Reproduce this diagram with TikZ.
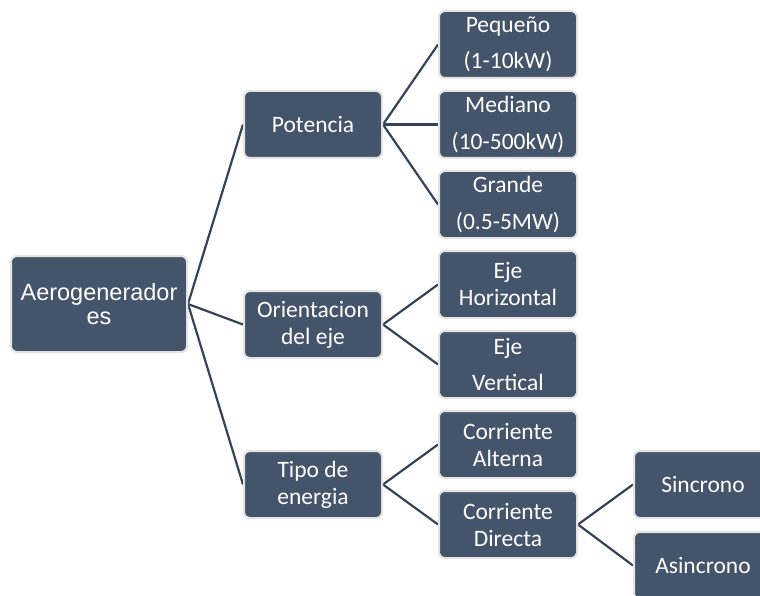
\documentclass[tikz,border=0pt]{standalone}
\usepackage{fontspec}
\setmainfont{Carlito}
\newfontfamily\arialfont{Liberation Sans}
\usetikzlibrary{backgrounds}
\definecolor{boxfill}{HTML}{44546A}
\definecolor{boxrim}{HTML}{E3E3E3}
\definecolor{wirecol}{HTML}{35435A}
\begin{document}
\begin{tikzpicture}[x=1pt,y=-1pt,
  box/.style={draw=boxrim, line width=2pt, fill=boxfill, rounded corners=6pt,
    text=white, minimum width=138pt, minimum height=67pt, inner sep=0pt,
    anchor=north west, align=center, font=\fontsize{23.5}{27}\selectfont},
  loose/.style={font=\fontsize{23.5}{36.5}\selectfont},
  wire/.style={draw=wirecol, line width=2.2pt}]
\useasboundingbox (0,0) rectangle (760,596);

% root
\node[box, minimum width=176pt, minimum height=96pt,
  font=\arialfont\fontsize{23.5}{24}\selectfont] (aero) at (10,255) {Aerogenerador\\es};

% first level
\node[box] (pot) at (243,90) {Potencia};
\node[box] (ori) at (243,290) {Orientacion\\del eje};
\node[box] (tipo) at (243,450) {Tipo de\\energia};

% second level
\node[box, loose] (peq) at (438,10) {Peque\~no\\ (1-10kW)};
\node[box, loose] (med) at (438,90) {Mediano\\(10-500kW)};
\node[box, loose] (gra) at (438,170) {Grande\\(0.5-5MW)};
\node[box] (ejh) at (438,250) {Eje\\Horizontal};
\node[box, loose] (ejv) at (438,330) {Eje\\ Vertical};
\node[box] (ca) at (438,410) {Corriente\\Alterna};
\node[box] (cd) at (438,490) {Corriente\\Directa};

% third level
\node[box] (sin) at (633,450) {Sincrono};
\node[box] (asin) at (633,531) {Asincrono};

\begin{scope}[on background layer]
  \draw[wire] (aero.east) -- (pot.west);
  \draw[wire] (aero.east) -- (ori.west);
  \draw[wire] (aero.east) -- (tipo.west);
  \draw[wire] (pot.east) -- (peq.west);
  \draw[wire] (pot.east) -- (med.west);
  \draw[wire] (pot.east) -- (gra.west);
  \draw[wire] (ori.east) -- (ejh.west);
  \draw[wire] (ori.east) -- (ejv.west);
  \draw[wire] (tipo.east) -- (ca.west);
  \draw[wire] (tipo.east) -- (cd.west);
  \draw[wire] (cd.east) -- (sin.west);
  \draw[wire] (cd.east) -- (asin.west);
\end{scope}
\end{tikzpicture}
\end{document}
